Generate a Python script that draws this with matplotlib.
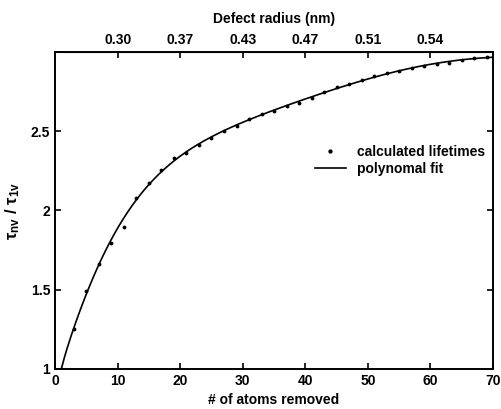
"""
Defect lifetime ratio vs. number of removed atoms
"""
import numpy as np
import matplotlib
matplotlib.use('Agg')
import matplotlib.pyplot as plt
from numpy.polynomial import Polynomial

plt.rcParams['font.family'] = ['Liberation Sans', 'DejaVu Sans']
plt.rcParams['font.weight'] = 'bold'
plt.rcParams['mathtext.fontset'] = 'custom'
plt.rcParams['mathtext.rm'] = 'Liberation Sans:bold'
plt.rcParams['mathtext.it'] = 'Liberation Sans:bold'

# ── data ──────────────────────────────────────────────────────────────
atoms_removed = [1, 3, 5, 7, 9, 11, 13, 15, 17, 19, 21, 23, 25, 27, 29, 31, 33, 35,
                 37, 39, 41, 43, 45, 47, 49, 51, 53, 55, 57, 59, 61, 63, 65, 67, 69]
lifetime_ratio = [1.00, 1.251, 1.489, 1.663, 1.796, 1.894, 2.076, 2.175, 2.257, 2.333,
                  2.36, 2.41, 2.46, 2.50, 2.535, 2.577, 2.606, 2.627, 2.656, 2.68,
                  2.709, 2.749, 2.777, 2.80, 2.825, 2.846, 2.865, 2.882, 2.897,
                  2.913, 2.922, 2.932, 2.949, 2.96, 2.97]

top_tick_pos = [10, 20, 30, 40, 50, 60]
top_tick_labels = ['0.30', '0.37', '0.43', '0.47', '0.51', '0.54']
y_ticks = [1, 1.5, 2, 2.5, 3]
y_tick_labels = ['1', '1.5', '2', '2.5', '']

# polynomial fit (in sqrt of atom count), outlier at 11 down-weighted
xa = np.asarray(atoms_removed, dtype=float)
weights = np.ones(len(xa))
weights[0] = 10
weights[1:7] = 3
weights[5] = 0.01
poly = Polynomial.fit(np.sqrt(xa), lifetime_ratio, 7, w=weights)
x_fit = np.linspace(1, 70, 300)
y_fit = poly(np.sqrt(x_fit))

# ── plot ──────────────────────────────────────────────────────────────
fig = plt.figure(figsize=(5.01, 4.09), dpi=100)
ax = fig.add_axes([0.110, 0.098, 0.874, 0.775])

ax.plot(atoms_removed, lifetime_ratio, 'k.', markersize=3.5, label='calculated lifetimes')
ax.plot(x_fit, y_fit, color='black', linewidth=1.2, label='polynomal fit')

ax.set_xlim(0, 70)
ax.set_ylim(1, 3)
ax.set_xticks(range(0, 71, 10))
ax.set_yticks(y_ticks)
ax.set_yticklabels(y_tick_labels)
ax.tick_params(direction='in', length=4, width=1.2, labelsize=10, right=True)
for s in ax.spines.values():
    s.set_linewidth(1.4)

ax.set_xlabel('# of atoms removed', fontsize=10, fontweight='bold', labelpad=4)
ax.set_ylabel(r'$\tau_{nv}\ /\ \tau_{1v}$', fontsize=12, labelpad=6)

top = ax.secondary_xaxis('top')
top.set_xticks(top_tick_pos)
top.set_xticklabels(top_tick_labels)
top.tick_params(direction='in', length=4, width=1.2, labelsize=10)
top.set_xlabel('Defect radius (nm)', fontsize=10, fontweight='bold', labelpad=7)

ax.legend(loc='upper left', bbox_to_anchor=(0.565, 0.745), frameon=False,
          fontsize=10, handlelength=2.2, handletextpad=0.8, labelspacing=0.2,
          markerscale=1.2)

plt.savefig('out.png', dpi=100)
plt.close()
